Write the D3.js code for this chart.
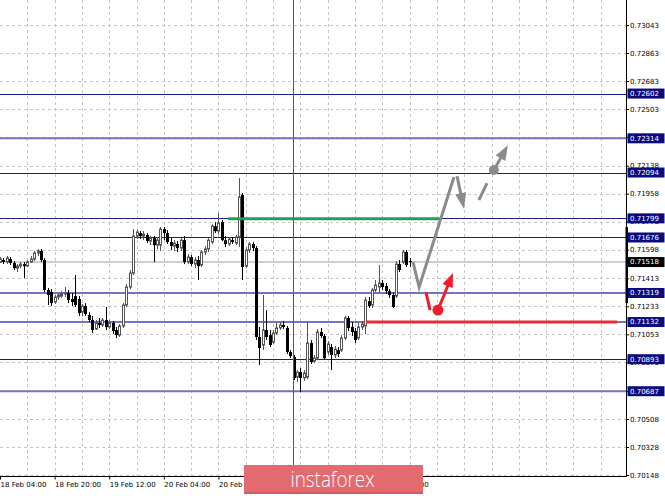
<!DOCTYPE html>
<html><head><meta charset="utf-8">
<script src="https://cdn.jsdelivr.net/npm/d3@7"></script>
<style>html,body{margin:0;padding:0;background:#fff;overflow:hidden}svg{display:block}</style>
</head><body>
<svg id="c" width="665" height="496"></svg>
<script>
// ---------- DATA ----------
const opens=[.71518,.71531,.71518,.71537,.71512,.71479,.71492,.71505,.71492,.71518,.71537,.71576,.71589,.71531,.71338,.71325,.71261,.71293,.71299,.71312,.71319,.71280,.71299,.71280,.71196,.71235,.71177,.71145,.71087,.71126,.71113,.71145,.71100,.71126,.71081,.71048,.71107,.71242,.71357,.71447,.71685,.71704,.71685,.71692,.71653,.71672,.71627,.71627,.71730,.71704,.71647,.71621,.71634,.71608,.71659,.71518,.71550,.71505,.71531,.71499,.71582,.71602,.71647,.71749,.71717,.71775,.71659,.71634,.71659,.71640,.71679,.71949,.71492,.71595,.71634,.71608,.71036,.70984,.71081,.71048,.71003,.71061,.71094,.71113,.71094,.70939,.70907,.70778,.70810,.70772,.70778,.70997,.70881,.70900,.71068,.71042,.70939,.70971,.70920,.70952,.70952,.71029,.71158,.71100,.71074,.71029,.71100,.71107,.71267,.71242,.71338,.71357,.71383,.71364,.71331,.71306,.71299,.71505,.71518,.71582,.71524];
const highs=[.71550,.71544,.71557,.71550,.71524,.71505,.71518,.71518,.71531,.71557,.71589,.71602,.71602,.71544,.71351,.71344,.71306,.71319,.71331,.71357,.71338,.71319,.71434,.71299,.71248,.71254,.71196,.71171,.71145,.71158,.71158,.71229,.71145,.71139,.71100,.71119,.71254,.71377,.71467,.71730,.71724,.71717,.71717,.71704,.71685,.71685,.71679,.71743,.71743,.71724,.71672,.71659,.71653,.71672,.71685,.71569,.71563,.71550,.71557,.71595,.71621,.71672,.71762,.71775,.71833,.71788,.71685,.71679,.71679,.71692,.72058,.71962,.71614,.71647,.71647,.71621,.71100,.71306,.71209,.71081,.71081,.71126,.71132,.71139,.71107,.70952,.70920,.70823,.70836,.70823,.71132,.71016,.70920,.71087,.71094,.71055,.71010,.70991,.70978,.70971,.71048,.71171,.71171,.71132,.71094,.71126,.71139,.71293,.71293,.71351,.71402,.71499,.71402,.71383,.71344,.71325,.71524,.71531,.71595,.71595,.71544];
const lows=[.71512,.71505,.71505,.71499,.71467,.71454,.71479,.71415,.71486,.71512,.71524,.71557,.71518,.71325,.71242,.71235,.71248,.71274,.71287,.71293,.71254,.71235,.71229,.71171,.71171,.71171,.71132,.71061,.71081,.71094,.71100,.71081,.71087,.71055,.71029,.71036,.71094,.71229,.71344,.71434,.71666,.71666,.71659,.71640,.71627,.71518,.71602,.71589,.71659,.71634,.71595,.71589,.71582,.71589,.71505,.71505,.71492,.71479,.71402,.71486,.71563,.71582,.71634,.71704,.71698,.71653,.71614,.71621,.71634,.71627,.71614,.71402,.71479,.71576,.71589,.71016,.70855,.70952,.71016,.70971,.70991,.71048,.71081,.71087,.70926,.70900,.70759,.70746,.70682,.70753,.70765,.70862,.70868,.70888,.71029,.70888,.70920,.70823,.70900,.70907,.70939,.71016,.71074,.71042,.70997,.71016,.71081,.71055,.71222,.71222,.71325,.71319,.71338,.71312,.71287,.71222,.71287,.71454,.71505,.71486,.71486];
const closes=[.71537,.71518,.71544,.71512,.71479,.71492,.71505,.71492,.71518,.71537,.71576,.71589,.71531,.71338,.71306,.71254,.71293,.71306,.71312,.71319,.71274,.71261,.71242,.71190,.71235,.71184,.71145,.71081,.71126,.71113,.71145,.71100,.71126,.71074,.71048,.71107,.71242,.71357,.71447,.71685,.71711,.71685,.71698,.71653,.71672,.71627,.71659,.71730,.71704,.71647,.71621,.71640,.71608,.71659,.71518,.71550,.71505,.71531,.71492,.71582,.71602,.71659,.71749,.71717,.71769,.71659,.71634,.71666,.71647,.71679,.71936,.71486,.71595,.71634,.71608,.71036,.70965,.71081,.71036,.70984,.71061,.71094,.71113,.71100,.70939,.70913,.70772,.70810,.70772,.70804,.70997,.70875,.70900,.71068,.71042,.70900,.70991,.70920,.70958,.70926,.71029,.71158,.71094,.71068,.71016,.71100,.71119,.71274,.71235,.71338,.71370,.71383,.71357,.71331,.71306,.71229,.71505,.71467,.71582,.71499,.71518];

const priceTicks=[0.73043,0.72863,0.72683,0.72503,0.72323,0.72138,0.71958,0.71778,0.71598,0.71413,0.71233,0.71053,0.70873,0.70688,0.70508,0.70328,0.70148];
const timeTickBars=[0,16,32,48,64,80,96,112];
const timeLabels=["18 Feb 04:00","18 Feb 20:00","19 Feb 12:00","20 Feb 04:00","20 Feb 20:00","21 Feb 12:00","22 Feb 04:00","22 Feb 20:00"];

const darkLevels=[0.72602,0.72094,0.71799,0.71676,0.70893];
const lightLevels=[0.72314,0.71319,0.71132,0.70687];
const currentPrice=0.71518;
const rangeBar=[0.71743,0.71254];

const greenSeg={price:0.71799,from:66.8,to:128.9};
const redSeg={price:0.71132,from:107.2,to:180.8};
const redVLineBar=85.85;

const grayPath=[[121.0,0.71518],[122.8,0.71357],[133.0,0.72065]];
const grayDownArrow=[[133.9,0.72071],[135.95,0.71859]];
const grayDash=[[140.3,0.71917],[142.7,0.72026]];
const grayUpArrow=[[144.7,0.72110],[148.8,0.72270]];
const redStroke=[[124.8,0.71325],[126.0,0.71209]];
const redUpArrow=[[128.3,0.71209],[132.7,0.71447]];

// ---------- LAYOUT ----------
const W=665,H=496, plotR=626, plotB=476;
const svg=d3.select("#c");
const x=d3.scaleLinear().domain([0,183.4]).range([0,plotR]);
const y=d3.scaleLinear().domain([0.70148,0.73043]).range([475,25]);
const FONT="DejaVu Sans";

svg.append("rect").attr("width",W).attr("height",H).attr("fill","#fff");

// grid
const grid=svg.append("g").attr("stroke","#c6c6c6").attr("stroke-width",1).attr("stroke-dasharray","3,3");
priceTicks.forEach(p=>{const yy=Math.round(y(p))+0.5;grid.append("line").attr("x1",0).attr("x2",plotR).attr("y1",yy).attr("y2",yy);});
d3.range(8,184,8).forEach(b=>{const xx=Math.round(x(b))+0.5; if(xx<plotR) grid.append("line").attr("x1",xx).attr("x2",xx).attr("y1",0).attr("y2",plotB);});

// current price line
svg.append("line").attr("x1",0).attr("x2",plotR).attr("y1",y(currentPrice)).attr("y2",y(currentPrice)).attr("stroke","#cfcfcf").attr("stroke-width",2);

// levels
darkLevels.forEach(p=>svg.append("line").attr("x1",0).attr("x2",plotR).attr("y1",Math.round(y(p))+0.5).attr("y2",Math.round(y(p))+0.5).attr("stroke","#1a1a90").attr("stroke-width",1));
lightLevels.forEach(p=>svg.append("line").attr("x1",0).attr("x2",plotR).attr("y1",y(p)).attr("y2",y(p)).attr("stroke","#7272c6").attr("stroke-width",2));

// candles
const cg=svg.append("g");
opens.forEach((o,i)=>{
  const c=closes[i],h=highs[i],l=lows[i];
  const r=Math.round(x(i)), cx=r+0.5;
  const bull=c>=o;
  cg.append("line").attr("x1",cx).attr("x2",cx).attr("y1",y(h)).attr("y2",y(l)).attr("stroke",bull?"#555":"#000").attr("stroke-width",1);
  const top=y(Math.max(o,c)), bot=y(Math.min(o,c));
  if(bull){
    cg.append("rect").attr("x",r-0.5).attr("width",2).attr("y",top).attr("height",Math.max(bot-top,0.8)).attr("fill","#fff").attr("stroke","#555").attr("stroke-width",1);
  } else {
    cg.append("rect").attr("x",r-1).attr("width",3).attr("y",top).attr("height",Math.max(bot-top,1)).attr("fill","#000");
  }
});

// green & red segments
svg.append("line").attr("x1",x(greenSeg.from)).attr("x2",x(greenSeg.to)).attr("y1",y(greenSeg.price)+0.5).attr("y2",y(greenSeg.price)+0.5).attr("stroke","#17a35a").attr("stroke-width",3);
svg.append("line").attr("x1",x(redSeg.from)).attr("x2",x(redSeg.to)).attr("y1",y(redSeg.price)).attr("y2",y(redSeg.price)).attr("stroke","#ee2a36").attr("stroke-width",3);

// red vertical line
const vx=Math.round(x(redVLineBar))+0.5;
svg.append("line").attr("x1",vx).attr("x2",vx).attr("y1",0).attr("y2",plotB).attr("stroke","#e02020").attr("stroke-width",1);

// forecast drawings
const line=d3.line().x(d=>x(d[0])).y(d=>y(d[1]));
function arrow(pts,color,len,hw){
  const x0=x(pts[0][0]),y0=y(pts[0][1]),x1=x(pts[1][0]),y1=y(pts[1][1]);
  const dx=x1-x0,dy=y1-y0,L=Math.hypot(dx,dy),ux=dx/L,uy=dy/L;
  const bx=x1-ux*len,by=y1-uy*len;
  svg.append("line").attr("x1",x0).attr("y1",y0).attr("x2",bx+ux*2).attr("y2",by+uy*2).attr("stroke",color).attr("stroke-width",3);
  svg.append("path").attr("d",`M${x1},${y1}L${bx-uy*hw},${by+ux*hw}L${bx+uy*hw},${by-ux*hw}Z`).attr("fill",color);
}
const GRAY="#8b8b8b", RED="#ee1c2c";
svg.append("path").attr("d",line(grayPath)).attr("fill","none").attr("stroke",GRAY).attr("stroke-width",3).attr("stroke-linejoin","miter");
arrow(grayDownArrow,GRAY,16,5.5);
svg.append("path").attr("d",line(grayDash)).attr("fill","none").attr("stroke",GRAY).attr("stroke-width",3);
svg.append("circle").attr("cx",x(grayUpArrow[0][0])).attr("cy",y(grayUpArrow[0][1])).attr("r",5).attr("fill",GRAY);
arrow(grayUpArrow,GRAY,15,5.5);
svg.append("path").attr("d",line(redStroke)).attr("fill","none").attr("stroke",RED).attr("stroke-width",3);
svg.append("circle").attr("cx",x(redUpArrow[0][0])).attr("cy",y(redUpArrow[0][1])).attr("r",5.5).attr("fill",RED);
arrow(redUpArrow,RED,14,5.5);

// axes
const ya=d3.axisRight(y).tickValues(priceTicks).tickSize(3).tickSizeOuter(0).tickPadding(1).tickFormat(d3.format(".5f"));
const yg=svg.append("g").attr("transform",`translate(${plotR},0)`).call(ya);
yg.select(".domain").remove();
yg.selectAll("text").attr("font-family",FONT).attr("font-size",7).attr("fill","#000");
const xa=d3.axisBottom(x).tickValues(timeTickBars).tickSize(3).tickSizeOuter(0).tickPadding(3).tickFormat((d,i)=>timeLabels[i]);
const xg=svg.append("g").attr("transform",`translate(0,${plotB+0.5})`).call(xa);
xg.select(".domain").remove();
xg.selectAll("text").attr("font-family",FONT).attr("font-size",7).attr("fill","#000").attr("text-anchor","start");
svg.append("line").attr("x1",plotR+0.5).attr("x2",plotR+0.5).attr("y1",0).attr("y2",plotB+1).attr("stroke","#000");
svg.append("line").attr("x1",0).attr("x2",plotR+1).attr("y1",plotB+0.5).attr("y2",plotB+0.5).attr("stroke","#000");

// level boxes
function box(p,fill){
  const yy=y(p);
  svg.append("rect").attr("x",plotR+1.5).attr("y",yy-5).attr("width",37).attr("height",10).attr("fill",fill);
  svg.append("text").attr("x",plotR+4).attr("y",yy).attr("dy","0.35em").attr("font-family",FONT).attr("font-size",7).attr("fill","#fff").text(d3.format(".5f")(p));
}
darkLevels.concat(lightLevels).forEach(p=>box(p,"#0b0b80"));
box(currentPrice,"#000");

// range bar on price axis
svg.append("rect").attr("x",plotR-0.5).attr("width",2.5).attr("y",y(rangeBar[0])).attr("height",y(rangeBar[1])-y(rangeBar[0])).attr("fill","#000");

// watermark
const wm=svg.append("g");
wm.append("rect").attr("x",244).attr("y",465).attr("width",179).attr("height",29).attr("fill","#e36a6e");
wm.append("rect").attr("x",244).attr("y",492).attr("width",179).attr("height",2).attr("fill","#c95458").attr("opacity",0.6);
wm.append("text").attr("x",332.5).attr("y",487).attr("text-anchor","middle").attr("font-family","Open Sans").attr("font-weight",300).attr("font-size",22).attr("fill","#fff").attr("textLength",84).attr("lengthAdjust","spacingAndGlyphs").text("instaforex");
</script>
</body></html>
